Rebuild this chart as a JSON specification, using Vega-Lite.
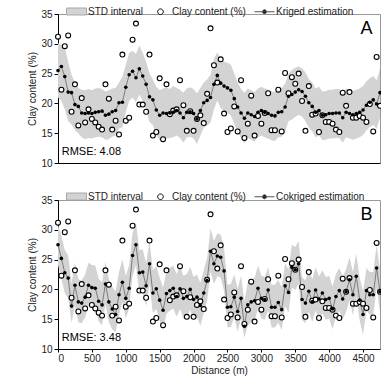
{
  "$schema": "https://vega.github.io/schema/vega-lite/v6.json",
  "padding": {"left": 27, "top": 0, "right": 1, "bottom": 0},
  "spacing": 16,
  "config": {
    "font": "Liberation Sans",
    "view": {"stroke": "#999", "strokeWidth": 1},
    "axis": {"grid": false, "domainColor": "black", "tickColor": "black", "labelFontSize": 10, "titleFontSize": 10, "titleFontWeight": "normal", "labelColor": "#222", "titleColor": "#222", "labelFont": "Liberation Sans", "titleFont": "Liberation Sans", "tickSize": 4, "labelPadding": 2, "titlePadding": 3},
    "axisX": {"tickCount": 10, "format": "d", "tickSize": 3, "labelPadding": 1, "titlePadding": 2},
    "axisY": {"tickCount": 6}
  },
  "datasets": {
    "clay": [
      {"d":0,"obs":31.2,"kA":25.5,"loA":21.0,"hiA":30.1,"kB":27.5,"loB":24.1,"hiB":30.8},
      {"d":50,"obs":22.3,"kA":26.2,"loA":20.5,"hiA":29.8,"kB":25.2,"loB":21.8,"hiB":29.0},
      {"d":100,"obs":29.6,"kA":24.5,"loA":19.0,"hiA":29.4,"kB":22.8,"loB":19.4,"hiB":26.6},
      {"d":150,"obs":31.4,"kA":21.9,"loA":17.0,"hiA":27.0,"kB":21.9,"loB":18.5,"hiB":25.7},
      {"d":200,"obs":18.6,"kA":21.8,"loA":16.5,"hiA":24.8,"kB":17.2,"loB":14.4,"hiB":21.0},
      {"d":250,"obs":23.2,"kA":19.8,"loA":15.5,"hiA":23.5,"kB":20.7,"loB":17.3,"hiB":24.5},
      {"d":300,"obs":16.3,"kA":19.5,"loA":15.0,"hiA":22.6,"kB":17.9,"loB":14.5,"hiB":21.7},
      {"d":350,"obs":20.9,"kA":18.4,"loA":14.3,"hiA":22.3,"kB":17.7,"loB":14.3,"hiB":21.5},
      {"d":400,"obs":16.8,"kA":18.3,"loA":14.0,"hiA":22.2,"kB":18.7,"loB":15.3,"hiB":22.5},
      {"d":450,"obs":19.0,"kA":18.4,"loA":14.2,"hiA":22.4,"kB":20.7,"loB":17.3,"hiB":24.5},
      {"d":500,"obs":17.4,"kA":18.3,"loA":14.1,"hiA":22.2,"kB":20.3,"loB":16.9,"hiB":24.1},
      {"d":550,"obs":16.8,"kA":18.5,"loA":14.3,"hiA":22.5,"kB":20.2,"loB":16.8,"hiB":24.0},
      {"d":600,"obs":16.1,"kA":18.6,"loA":14.4,"hiA":22.6,"kB":18.0,"loB":14.6,"hiB":21.8},
      {"d":650,"obs":15.6,"kA":18.7,"loA":14.3,"hiA":22.4,"kB":17.4,"loB":14.0,"hiB":21.2},
      {"d":700,"obs":23.2,"kA":18.0,"loA":13.9,"hiA":22.0,"kB":20.9,"loB":17.5,"hiB":24.7},
      {"d":750,"obs":20.8,"kA":18.2,"loA":14.0,"hiA":22.2,"kB":17.9,"loB":14.5,"hiB":21.7},
      {"d":800,"obs":15.6,"kA":18.6,"loA":14.4,"hiA":22.5,"kB":16.7,"loB":13.3,"hiB":20.5},
      {"d":850,"obs":17.1,"kA":18.8,"loA":14.6,"hiA":22.6,"kB":15.8,"loB":12.8,"hiB":19.6},
      {"d":900,"obs":14.8,"kA":20.1,"loA":15.8,"hiA":23.5,"kB":19.1,"loB":15.7,"hiB":22.9},
      {"d":950,"obs":28.2,"kA":20.2,"loA":16.0,"hiA":24.5,"kB":21.2,"loB":17.8,"hiB":25.0},
      {"d":1000,"obs":17.1,"kA":22.7,"loA":18.5,"hiA":26.5,"kB":18.5,"loB":15.1,"hiB":22.3},
      {"d":1050,"obs":17.6,"kA":24.8,"loA":20.5,"hiA":28.5,"kB":20.2,"loB":16.8,"hiB":24.0},
      {"d":1100,"obs":30.7,"kA":25.4,"loA":21.0,"hiA":28.8,"kB":25.7,"loB":22.3,"hiB":29.5},
      {"d":1150,"obs":33.4,"kA":24.3,"loA":20.2,"hiA":28.3,"kB":27.5,"loB":24.1,"hiB":31.3},
      {"d":1200,"obs":19.8,"kA":25.8,"loA":21.5,"hiA":29.7,"kB":22.8,"loB":19.4,"hiB":26.6},
      {"d":1250,"obs":19.8,"kA":24.6,"loA":20.4,"hiA":28.5,"kB":22.9,"loB":19.5,"hiB":26.7},
      {"d":1300,"obs":18.6,"kA":23.2,"loA":19.0,"hiA":27.0,"kB":20.6,"loB":17.2,"hiB":24.4},
      {"d":1350,"obs":28.2,"kA":21.1,"loA":16.9,"hiA":25.0,"kB":24.3,"loB":20.9,"hiB":28.1},
      {"d":1400,"obs":14.6,"kA":20.6,"loA":16.4,"hiA":24.0,"kB":19.4,"loB":16.0,"hiB":23.2},
      {"d":1450,"obs":15.2,"kA":18.9,"loA":14.7,"hiA":22.8,"kB":20.1,"loB":16.7,"hiB":23.9},
      {"d":1500,"obs":24.2,"kA":18.0,"loA":13.8,"hiA":22.2,"kB":18.2,"loB":14.8,"hiB":22.0},
      {"d":1550,"obs":14.0,"kA":18.4,"loA":14.2,"hiA":22.5,"kB":16.5,"loB":13.1,"hiB":20.3},
      {"d":1600,"obs":23.2,"kA":18.3,"loA":14.1,"hiA":22.7,"kB":19.3,"loB":15.9,"hiB":23.1},
      {"d":1650,"obs":18.2,"kA":18.4,"loA":14.2,"hiA":22.4,"kB":19.8,"loB":16.4,"hiB":23.6},
      {"d":1700,"obs":18.8,"kA":18.5,"loA":14.3,"hiA":22.9,"kB":20.2,"loB":16.8,"hiB":24.0},
      {"d":1750,"obs":19.0,"kA":18.8,"loA":14.6,"hiA":22.6,"kB":18.8,"loB":15.4,"hiB":22.6},
      {"d":1800,"obs":23.9,"kA":18.4,"loA":14.2,"hiA":22.3,"kB":20.1,"loB":16.7,"hiB":23.9},
      {"d":1850,"obs":19.7,"kA":17.6,"loA":13.4,"hiA":21.8,"kB":18.5,"loB":15.1,"hiB":22.3},
      {"d":1900,"obs":15.4,"kA":18.5,"loA":14.3,"hiA":22.5,"kB":18.8,"loB":15.4,"hiB":22.6},
      {"d":1950,"obs":18.7,"kA":18.6,"loA":14.4,"hiA":22.7,"kB":20.0,"loB":16.6,"hiB":23.8},
      {"d":2000,"obs":15.4,"kA":18.3,"loA":14.1,"hiA":22.4,"kB":18.3,"loB":14.9,"hiB":22.1},
      {"d":2050,"obs":17.4,"kA":17.4,"loA":13.2,"hiA":21.7,"kB":18.7,"loB":15.3,"hiB":22.5},
      {"d":2100,"obs":18.0,"kA":18.8,"loA":14.6,"hiA":22.6,"kB":17.3,"loB":13.9,"hiB":21.1},
      {"d":2150,"obs":16.7,"kA":20.1,"loA":15.9,"hiA":23.5,"kB":19.4,"loB":16.0,"hiB":23.2},
      {"d":2200,"obs":21.6,"kA":20.5,"loA":16.3,"hiA":24.0,"kB":21.5,"loB":18.1,"hiB":25.3},
      {"d":2250,"obs":32.6,"kA":21.0,"loA":16.8,"hiA":24.8,"kB":26.4,"loB":23.0,"hiB":30.2},
      {"d":2300,"obs":26.4,"kA":23.2,"loA":19.0,"hiA":27.5,"kB":24.3,"loB":20.9,"hiB":28.1},
      {"d":2350,"obs":23.5,"kA":24.7,"loA":20.5,"hiA":28.6,"kB":25.6,"loB":22.2,"hiB":29.4},
      {"d":2400,"obs":27.4,"kA":23.4,"loA":19.2,"hiA":27.5,"kB":25.4,"loB":22.0,"hiB":29.2},
      {"d":2450,"obs":18.3,"kA":22.9,"loA":18.7,"hiA":27.0,"kB":23.1,"loB":19.7,"hiB":26.9},
      {"d":2500,"obs":15.2,"kA":22.6,"loA":18.4,"hiA":26.8,"kB":17.0,"loB":13.6,"hiB":20.8},
      {"d":2550,"obs":15.8,"kA":22.2,"loA":18.0,"hiA":26.5,"kB":17.1,"loB":13.7,"hiB":20.9},
      {"d":2600,"obs":19.5,"kA":20.8,"loA":16.6,"hiA":25.0,"kB":18.7,"loB":15.3,"hiB":22.5},
      {"d":2650,"obs":15.3,"kA":19.4,"loA":15.2,"hiA":23.5,"kB":16.3,"loB":12.9,"hiB":20.1},
      {"d":2700,"obs":23.9,"kA":18.4,"loA":14.2,"hiA":22.4,"kB":18.5,"loB":15.1,"hiB":22.3},
      {"d":2750,"obs":14.2,"kA":17.5,"loA":13.3,"hiA":21.8,"kB":13.8,"loB":11.9,"hiB":18.0},
      {"d":2800,"obs":16.6,"kA":18.4,"loA":14.2,"hiA":22.5,"kB":17.4,"loB":14.0,"hiB":21.2},
      {"d":2850,"obs":21.3,"kA":18.1,"loA":13.9,"hiA":22.2,"kB":17.9,"loB":14.5,"hiB":21.7},
      {"d":2900,"obs":14.6,"kA":17.8,"loA":13.6,"hiA":21.9,"kB":18.1,"loB":14.7,"hiB":21.9},
      {"d":2950,"obs":17.9,"kA":18.5,"loA":14.3,"hiA":22.5,"kB":20.2,"loB":16.8,"hiB":24.0},
      {"d":3000,"obs":16.6,"kA":18.8,"loA":14.6,"hiA":22.8,"kB":18.5,"loB":15.1,"hiB":22.3},
      {"d":3050,"obs":18.4,"kA":18.5,"loA":14.3,"hiA":22.5,"kB":18.3,"loB":14.9,"hiB":22.1},
      {"d":3100,"obs":21.7,"kA":18.3,"loA":14.1,"hiA":22.3,"kB":19.9,"loB":16.5,"hiB":23.7},
      {"d":3150,"obs":15.5,"kA":18.0,"loA":13.8,"hiA":22.0,"kB":17.0,"loB":13.6,"hiB":20.8},
      {"d":3200,"obs":15.5,"kA":17.9,"loA":13.7,"hiA":21.9,"kB":17.0,"loB":13.6,"hiB":20.8},
      {"d":3250,"obs":22.3,"kA":18.5,"loA":14.3,"hiA":22.5,"kB":17.8,"loB":14.4,"hiB":21.6},
      {"d":3300,"obs":15.3,"kA":18.6,"loA":14.4,"hiA":22.6,"kB":16.6,"loB":13.2,"hiB":20.4},
      {"d":3350,"obs":25.1,"kA":19.4,"loA":15.2,"hiA":23.3,"kB":20.6,"loB":17.2,"hiB":24.4},
      {"d":3400,"obs":21.7,"kA":21.2,"loA":17.0,"hiA":25.0,"kB":19.5,"loB":16.1,"hiB":23.3},
      {"d":3450,"obs":24.4,"kA":21.5,"loA":17.3,"hiA":25.6,"kB":23.7,"loB":20.3,"hiB":27.5},
      {"d":3500,"obs":23.3,"kA":21.9,"loA":17.7,"hiA":26.0,"kB":23.3,"loB":19.9,"hiB":27.1},
      {"d":3550,"obs":25.0,"kA":22.3,"loA":18.1,"hiA":26.2,"kB":24.3,"loB":20.9,"hiB":28.1},
      {"d":3600,"obs":20.4,"kA":22.0,"loA":17.8,"hiA":25.9,"kB":18.3,"loB":14.9,"hiB":22.1},
      {"d":3650,"obs":15.4,"kA":21.2,"loA":17.0,"hiA":25.2,"kB":17.7,"loB":14.3,"hiB":21.5},
      {"d":3700,"obs":22.9,"kA":20.1,"loA":15.9,"hiA":24.1,"kB":19.7,"loB":16.3,"hiB":23.5},
      {"d":3750,"obs":18.1,"kA":19.5,"loA":15.3,"hiA":23.5,"kB":17.9,"loB":14.5,"hiB":21.7},
      {"d":3800,"obs":18.3,"kA":18.5,"loA":14.3,"hiA":22.5,"kB":19.9,"loB":16.5,"hiB":23.7},
      {"d":3850,"obs":15.2,"kA":18.8,"loA":14.6,"hiA":22.8,"kB":18.4,"loB":15.0,"hiB":22.2},
      {"d":3900,"obs":18.0,"kA":18.0,"loA":13.8,"hiA":22.0,"kB":19.4,"loB":16.0,"hiB":23.2},
      {"d":3950,"obs":16.9,"kA":18.1,"loA":13.9,"hiA":22.1,"kB":18.3,"loB":14.9,"hiB":22.1},
      {"d":4000,"obs":16.9,"kA":18.3,"loA":14.1,"hiA":22.3,"kB":18.5,"loB":15.1,"hiB":22.3},
      {"d":4050,"obs":16.6,"kA":18.3,"loA":14.1,"hiA":22.3,"kB":16.7,"loB":13.3,"hiB":20.5},
      {"d":4100,"obs":15.6,"kA":18.4,"loA":14.2,"hiA":22.4,"kB":18.8,"loB":15.4,"hiB":22.6},
      {"d":4150,"obs":15.2,"kA":18.4,"loA":14.2,"hiA":22.4,"kB":19.8,"loB":16.4,"hiB":23.6},
      {"d":4200,"obs":21.8,"kA":17.6,"loA":13.4,"hiA":21.6,"kB":18.4,"loB":15.0,"hiB":22.2},
      {"d":4250,"obs":19.6,"kA":18.5,"loA":14.3,"hiA":22.5,"kB":19.6,"loB":16.2,"hiB":23.4},
      {"d":4300,"obs":21.9,"kA":18.3,"loA":14.1,"hiA":22.3,"kB":21.6,"loB":18.2,"hiB":25.4},
      {"d":4350,"obs":17.6,"kA":18.1,"loA":13.9,"hiA":22.1,"kB":19.1,"loB":15.7,"hiB":22.9},
      {"d":4400,"obs":17.6,"kA":18.3,"loA":14.1,"hiA":22.3,"kB":22.2,"loB":18.8,"hiB":26.0},
      {"d":4450,"obs":17.9,"kA":18.5,"loA":14.3,"hiA":22.5,"kB":18.2,"loB":14.8,"hiB":22.0},
      {"d":4500,"obs":17.6,"kA":18.9,"loA":14.7,"hiA":22.9,"kB":15.8,"loB":12.4,"hiB":19.6},
      {"d":4550,"obs":16.9,"kA":19.7,"loA":15.5,"hiA":23.7,"kB":19.8,"loB":16.4,"hiB":23.6},
      {"d":4600,"obs":19.9,"kA":20.2,"loA":16.0,"hiA":24.2,"kB":19.1,"loB":15.7,"hiB":22.9},
      {"d":4650,"obs":15.3,"kA":20.6,"loA":16.4,"hiA":24.6,"kB":19.1,"loB":15.7,"hiB":22.9},
      {"d":4700,"obs":27.8,"kA":19.9,"loA":15.7,"hiA":23.9,"kB":23.6,"loB":20.2,"hiB":27.4},
      {"d":4750,"obs":19.6,"kA":21.8,"loA":17.6,"hiA":25.8,"kB":19.6,"loB":16.2,"hiB":23.4}
    ]
  },
  "resolve": {"scale": {"shape": "independent", "fill": "independent", "stroke": "independent"}},
  "vconcat": [
    {
      "width": 322,
      "height": 149,
      "data": {"name": "clay"},
      "layer": [
        {
          "mark": {"type": "area", "color": "#d3d3d3", "opacity": 1},
          "encoding": {
            "x": {"field": "d", "type": "quantitative", "title": null, "scale": {"domain": [0, 4750], "nice": false, "zero": false}, "axis": {"labels": false, "ticks": false}},
            "y": {"field": "loA", "type": "quantitative", "title": "Clay content (%)", "scale": {"domain": [10, 35], "nice": false}},
            "y2": {"field": "hiA"}
          }
        },
        {
          "mark": {"type": "line", "color": "#666", "strokeWidth": 0.8},
          "encoding": {
            "x": {"field": "d", "type": "quantitative", "title": null, "axis": {"labels": false, "ticks": false}},
            "y": {"field": "kA", "type": "quantitative", "title": "Clay content (%)"}
          }
        },
        {
          "mark": {"type": "point", "shape": "circle", "filled": true, "fill": "white", "stroke": "black", "strokeWidth": 1.1, "size": 24, "opacity": 1},
          "encoding": {
            "x": {"field": "d", "type": "quantitative", "title": null, "axis": {"labels": false, "ticks": false}},
            "y": {"field": "obs", "type": "quantitative", "title": "Clay content (%)"}
          }
        },
        {
          "mark": {"type": "circle", "color": "black", "size": 13, "opacity": 1},
          "encoding": {
            "x": {"field": "d", "type": "quantitative", "title": null, "axis": {"labels": false, "ticks": false}},
            "y": {"field": "kA", "type": "quantitative", "title": "Clay content (%)"}
          }
        },
        {
          "data": {"values": [{}]},
          "mark": {"type": "text", "text": "RMSE: 4.08", "align": "left", "baseline": "middle", "fontSize": 11, "color": "black"},
          "encoding": {
            "x": {"datum": 55, "type": "quantitative", "title": null, "axis": {"labels": false, "ticks": false}},
            "y": {"datum": 11.8, "type": "quantitative", "title": "Clay content (%)"}
          }
        },
        {
          "data": {"values": [{}]},
          "mark": {"type": "text", "text": "A", "align": "center", "baseline": "middle", "fontSize": 18, "color": "black"},
          "encoding": {
            "x": {"datum": 4550, "type": "quantitative", "title": null, "axis": {"labels": false, "ticks": false}},
            "y": {"datum": 32.5, "type": "quantitative", "title": "Clay content (%)"}
          }
        },
        {
          "data": {"values": []},
          "mark": {"type": "point", "opacity": 1, "filled": true},
          "encoding": {
            "shape": {"datum": "STD interval", "scale": {"domain": ["STD interval", "Clay content (%)", "Kriged estimation"], "range": ["M-1,-0.35H1V0.35H-1Z", "M0.28,0A0.28,0.28,0,1,1,-0.28,0A0.28,0.28,0,1,1,0.28,0", "M-1,0H1M0.2,0A0.2,0.2,0,1,1,-0.2,0A0.2,0.2,0,1,1,0.2,0"]},
              "legend": {"orient": "none", "legendX": 8, "legendY": -13, "direction": "horizontal", "title": null, "symbolSize": 400, "labelFontSize": 10, "labelColor": "#222", "labelOffset": 1, "columnPadding": 6, "symbolStrokeWidth": 1, "padding": 0, "symbolOpacity": 1}},
            "fill": {"datum": "STD interval", "scale": {"domain": ["STD interval", "Clay content (%)", "Kriged estimation"], "range": ["#d3d3d3", "white", "black"]}},
            "stroke": {"datum": "STD interval", "scale": {"domain": ["STD interval", "Clay content (%)", "Kriged estimation"], "range": ["#a8a8a8", "black", "#555"]}}
          }
        }
      ]
    },
    {
      "width": 322,
      "height": 149,
      "data": {"name": "clay"},
      "layer": [
        {
          "mark": {"type": "area", "color": "#d3d3d3", "opacity": 1},
          "encoding": {
            "x": {"field": "d", "type": "quantitative", "title": "Distance (m)", "scale": {"domain": [0, 4750], "nice": false, "zero": false}},
            "y": {"field": "loB", "type": "quantitative", "title": "Clay content (%)", "scale": {"domain": [10, 35], "nice": false}},
            "y2": {"field": "hiB"}
          }
        },
        {
          "mark": {"type": "line", "color": "#666", "strokeWidth": 0.8},
          "encoding": {
            "x": {"field": "d", "type": "quantitative", "title": "Distance (m)"},
            "y": {"field": "kB", "type": "quantitative", "title": "Clay content (%)"}
          }
        },
        {
          "mark": {"type": "point", "shape": "circle", "filled": true, "fill": "white", "stroke": "black", "strokeWidth": 1.1, "size": 24, "opacity": 1},
          "encoding": {
            "x": {"field": "d", "type": "quantitative", "title": "Distance (m)"},
            "y": {"field": "obs", "type": "quantitative", "title": "Clay content (%)"}
          }
        },
        {
          "mark": {"type": "circle", "color": "black", "size": 13, "opacity": 1},
          "encoding": {
            "x": {"field": "d", "type": "quantitative", "title": "Distance (m)"},
            "y": {"field": "kB", "type": "quantitative", "title": "Clay content (%)"}
          }
        },
        {
          "data": {"values": [{}]},
          "mark": {"type": "text", "text": "RMSE: 3.48", "align": "left", "baseline": "middle", "fontSize": 11, "color": "black"},
          "encoding": {
            "x": {"datum": 55, "type": "quantitative", "title": "Distance (m)"},
            "y": {"datum": 11.8, "type": "quantitative", "title": "Clay content (%)"}
          }
        },
        {
          "data": {"values": [{}]},
          "mark": {"type": "text", "text": "B", "align": "center", "baseline": "middle", "fontSize": 18, "color": "black"},
          "encoding": {
            "x": {"datum": 4550, "type": "quantitative", "title": "Distance (m)"},
            "y": {"datum": 32.5, "type": "quantitative", "title": "Clay content (%)"}
          }
        },
        {
          "data": {"values": []},
          "mark": {"type": "point", "opacity": 1, "filled": true},
          "encoding": {
            "shape": {"datum": "STD interval", "scale": {"domain": ["STD interval", "Clay content (%)", "Cokriged estimation"], "range": ["M-1,-0.35H1V0.35H-1Z", "M0.28,0A0.28,0.28,0,1,1,-0.28,0A0.28,0.28,0,1,1,0.28,0", "M-1,0H1M0.2,0A0.2,0.2,0,1,1,-0.2,0A0.2,0.2,0,1,1,0.2,0"]},
              "legend": {"orient": "none", "legendX": 8, "legendY": -14, "direction": "horizontal", "title": null, "symbolSize": 400, "labelFontSize": 10, "labelColor": "#222", "labelOffset": 1, "columnPadding": 6, "symbolStrokeWidth": 1, "padding": 0, "symbolOpacity": 1}},
            "fill": {"datum": "STD interval", "scale": {"domain": ["STD interval", "Clay content (%)", "Cokriged estimation"], "range": ["#d3d3d3", "white", "black"]}},
            "stroke": {"datum": "STD interval", "scale": {"domain": ["STD interval", "Clay content (%)", "Cokriged estimation"], "range": ["#a8a8a8", "black", "#555"]}}
          }
        }
      ]
    }
  ]
}
